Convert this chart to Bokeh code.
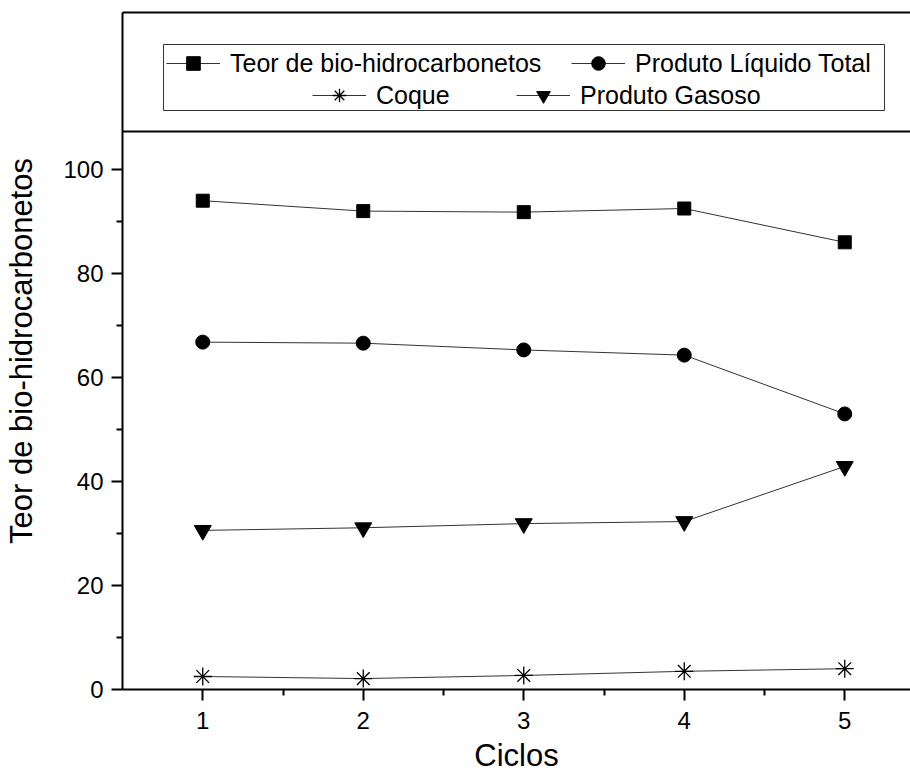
from bokeh.plotting import figure
from bokeh.models import Legend, LegendItem, FixedTicker, LinearAxis, Span, BoxAnnotation, Range1d
from bokeh.embed import file_html
from bokeh.resources import INLINE

# ---- data ----
ciclos = [1, 2, 3, 4, 5]
teor_bio = [94.0, 92.0, 91.8, 92.5, 86.0]
liquido_total = [66.8, 66.6, 65.3, 64.3, 53.0]
coque = [2.5, 2.1, 2.7, 3.5, 4.0]
gasoso = [30.6, 31.1, 31.9, 32.3, 42.9]

series_labels = ["Teor de bio-hidrocarbonetos", "Produto Líquido Total", "Coque", "Produto Gasoso"]
x_ticks = [1, 2, 3, 4, 5]
y_ticks = [0, 20, 40, 60, 80, 100]
x_title = "Ciclos"
y_title = "Teor de bio-hidrocarbonetos"

FONT = "Liberation Sans"

# ---- layout geometry (pixels) ----
W, H = 910, 782
LEFT, TOP, BOTTOM = 122, 12, 93
frame_w = W - LEFT
frame_h = H - TOP - BOTTOM
px_per_x = 160.5
px_per_y = 5.2
x0 = 0.5
x_end = x0 + frame_w / px_per_x
y_end = frame_h / px_per_y

def cx(px):  # canvas x pixel -> data x
    return x0 + (px - LEFT) / px_per_x

def cy(py):  # canvas y pixel -> data y
    return (H - BOTTOM - py) / px_per_y

p = figure(width=W, height=H, x_range=Range1d(x0, x_end), y_range=Range1d(0, y_end),
           output_backend="svg", toolbar_location=None,
           min_border_left=LEFT, min_border_right=0, min_border_top=TOP, min_border_bottom=BOTTOM)
p.grid.visible = False
p.outline_line_color = None
p.background_fill_color = "white"
p.border_fill_color = "white"

# axes
for ax in (p.xaxis[0], p.yaxis[0]):
    ax.axis_line_width = 2
    ax.axis_line_color = "black"
    ax.major_tick_line_width = 2
    ax.minor_tick_line_width = 2
    ax.major_tick_in = 0
    ax.minor_tick_in = 0
    ax.major_tick_out = 11
    ax.minor_tick_out = 6
    ax.major_label_text_font = FONT
    ax.major_label_text_font_size = "24px"
    ax.major_label_text_color = "black"
    ax.axis_label_text_font = FONT
    ax.axis_label_text_font_size = "31px"
    ax.axis_label_text_font_style = "normal"
    ax.axis_label_text_color = "black"

p.xaxis[0].ticker = FixedTicker(ticks=x_ticks, minor_ticks=[1.5, 2.5, 3.5, 4.5])
p.yaxis[0].ticker = FixedTicker(ticks=y_ticks, minor_ticks=[10, 30, 50, 70, 90])
p.xaxis[0].axis_label = x_title
p.yaxis[0].axis_label = y_title
p.xaxis[0].major_label_standoff = 11
p.yaxis[0].major_label_standoff = 8
p.xaxis[0].axis_label_standoff = 6
p.yaxis[0].axis_label_standoff = 21

# top frame line
top_ax = LinearAxis(ticker=FixedTicker(ticks=[]), axis_line_width=2, axis_line_color="black",
                    major_tick_line_color=None, minor_tick_line_color=None,
                    major_label_text_color=None)
p.add_layout(top_ax, "above")

# separator line under legend area
p.add_layout(Span(location=cy(131), dimension="width", line_color="black", line_width=2))

# legend box
p.add_layout(BoxAnnotation(left=cx(163), right=cx(884), top=cy(44), bottom=cy(110),
                           fill_color=None, fill_alpha=0, line_color="#333333", line_width=1,
                           line_alpha=1))

specs = [
    (teor_bio, "square", 13),
    (liquido_total, "circle", 14),
    (coque, "asterisk", 18),
    (gasoso, "inverted_triangle", 17),
]
renderers = []
for vals, marker, size in specs:
    rl = p.line(ciclos, vals, line_color="#333333", line_width=1)
    rs = p.scatter(ciclos, vals, marker=marker, size=size, fill_color="black",
                   line_color="black", line_width=1.3 if marker == "asterisk" else 1)
    renderers.append([rl, rs])

# legend items: (canvas x of glyph left, canvas y of row center)
GH = 34
leg_pos = [(166, 63), (571, 63), (312, 95), (516, 95)]
for (lx, ly), lab, rends in zip(leg_pos, series_labels, renderers):
    leg = Legend(items=[LegendItem(label=lab, renderers=rends)],
                 location=(lx - LEFT, (H - BOTTOM) - (ly + GH / 2)),
                 padding=0, margin=0, spacing=0,
                 border_line_color=None, background_fill_alpha=0,
                 glyph_width=54, glyph_height=GH, label_height=GH,
                 label_standoff=10,
                 label_text_font=FONT, label_text_font_size="25px",
                 label_text_color="black", label_text_baseline="middle")
    p.add_layout(leg, "center")

open("out.html", "w").write(file_html(p, INLINE))
